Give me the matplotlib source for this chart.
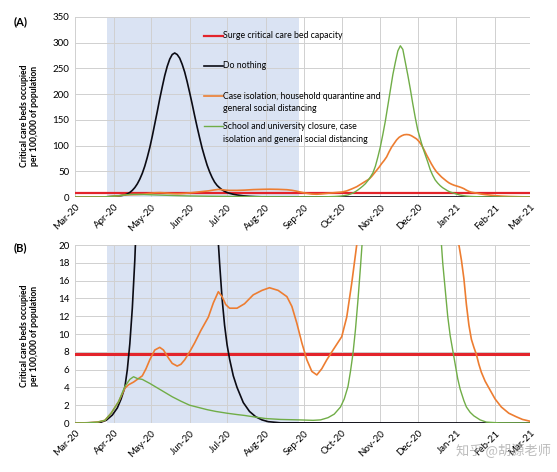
import numpy as np
import matplotlib
matplotlib.use("Agg")
import matplotlib.pyplot as plt
import matplotlib.dates as mdates
from matplotlib.lines import Line2D
from matplotlib.legend_handler import HandlerLine2D

plt.rcParams["font.family"] = ["Lato", "DejaVu Sans"]

# --- Data (days since 1 Mar 2020, critical care beds per 100,000) ---
start = np.datetime64("2020-03-01")

black_day = [0, 20, 25, 30, 34, 37, 40, 42, 44, 46, 48, 50, 52, 54, 56, 58, 60, 62,
             64, 66, 68, 70, 72, 74, 76, 78, 80, 82, 84, 86, 88, 90, 92, 94, 96, 98,
             100, 102, 104, 106, 108, 110, 112, 114, 116, 118, 120, 122, 124, 127,
             130, 135, 140, 145, 150, 155, 165, 365]
black_val = [0, 0.05, 0.3, 0.9, 1.7, 2.7, 4.0, 6.0, 8.9, 12.9, 18.3, 25.5, 34.7, 46,
             60, 77, 96, 118, 142, 166, 191, 214, 236, 254, 268, 277, 280, 277, 270,
             258, 243, 224, 203, 181, 158, 136, 115, 95, 78, 62, 49, 38, 29, 22.5,
             18, 14, 11, 8.8, 7.2, 5.3, 4.0, 2.3, 1.3, 0.7, 0.35, 0.15, 0.02, 0]

orange_day = [0, 10, 18, 24, 29, 35, 40, 43, 47, 50, 54, 57, 60, 64, 68, 71, 75, 78,
              82, 85, 88, 92, 96, 101, 107, 111, 115, 118, 121, 124, 130, 136, 143,
              150, 156, 163, 170, 174, 178, 182, 186, 190, 194, 198, 202, 207, 214,
              218, 222, 226, 228, 230, 232, 234, 236, 238, 240, 242, 244, 246, 248,
              250, 252, 254, 256, 258, 260, 262, 264, 266, 268, 270, 272, 274, 276,
              278, 280, 282, 284, 286, 288, 290, 292, 294, 296, 298, 300, 302, 304,
              306, 308, 310, 312, 314, 316, 318, 320, 322, 324, 326, 329, 333, 337,
              342, 348, 354, 359, 365]
orange_val = [0, 0.02, 0.1, 0.3, 1.1, 2.4, 3.9, 4.3, 4.6, 4.9, 5.3, 6.1, 7.1, 8.2,
              8.5, 8.2, 7.3, 6.7, 6.4, 6.6, 7.1, 8.0, 9.0, 10.4, 11.9, 13.5, 14.75,
              14.2, 13.3, 12.9, 12.9, 13.4, 14.4, 14.9, 15.2, 14.9, 14.2, 13.1, 11.2,
              9.0, 7.1, 5.8, 5.4, 6.1, 7.1, 8.2, 9.7, 11.9, 15.7, 20, 23, 26, 29, 32,
              35, 40, 46, 52, 58, 65, 71, 78, 88, 97, 104, 111, 116, 119, 121, 121.5,
              121, 119, 116, 113, 108, 101, 92, 82, 73, 64, 56, 49, 44, 39, 35, 31,
              27.5, 25, 23, 21.5, 20, 18.3, 16.2, 13.3, 11, 9.4, 8.5, 7.7, 6.6, 5.7,
              4.7, 3.7, 2.7, 1.8, 1.1, 0.7, 0.4, 0.2]

green_day = [0, 10, 18, 24, 29, 35, 40, 44, 47, 50, 54, 60, 66, 72, 78, 85, 92, 99,
             106, 113, 122, 130, 136, 143, 153, 165, 180, 191, 197, 203, 208, 213,
             216, 219, 221, 223, 225, 227, 229, 231, 233, 235, 237, 239, 241, 243,
             245, 247, 249, 251, 253, 255, 257, 259, 261, 263, 265, 267, 269, 271,
             273, 275, 277, 279, 281, 283, 285, 287, 289, 291, 293, 295, 297, 299,
             301, 304, 307, 309, 312, 314, 317, 320, 325, 330, 340, 365]
green_val = [0, 0.02, 0.1, 0.3, 1.1, 2.4, 4.1, 4.9, 5.2, 5.0, 4.9, 4.45, 3.95, 3.45,
             2.95, 2.45, 2.0, 1.75, 1.5, 1.3, 1.1, 0.95, 0.85, 0.7, 0.5, 0.4, 0.35,
             0.3, 0.35, 0.6, 1.0, 1.8, 2.7, 4.1, 5.8, 7.8, 10.5, 13.8, 17.5, 21.5,
             26, 32, 39, 47, 60, 78, 98, 122, 148, 178, 208, 238, 262, 284, 294, 287,
             262, 237, 210, 181, 154, 130, 113, 96, 82, 68, 53, 42, 33, 27, 22, 18,
             15, 12, 9.8, 7.4, 5.0, 3.8, 2.5, 1.8, 1.2, 0.8, 0.35, 0.1, 0.02, 0]

surge_capacity = 7.8
intervention = ("2020-03-27", "2020-08-28")

labels = [
    "Surge critical care bed capacity\n ",
    "Do nothing\n ",
    "Case isolation, household quarantine and\ngeneral social distancing",
    "School and university closure, case\nisolation and general social distancing",
]
colors = ["#E3242B", "#0B0B14", "#ED7D31", "#70AD47"]


def to_dates(days):
    return start + np.array(days).astype("timedelta64[D]")


class FirstLineHandler(HandlerLine2D):
    # put the legend line next to the first line of a two-line label
    def __init__(self, shift, **kw):
        super().__init__(**kw)
        self.shift = shift

    def create_artists(self, legend, orig_handle, xdescent, ydescent, width,
                       height, fontsize, trans):
        return super().create_artists(legend, orig_handle, xdescent,
                                      ydescent - self.shift, width, height,
                                      fontsize, trans)


fig = plt.figure(figsize=(5.57, 4.72), dpi=100)
ax_a = fig.add_axes([0.1346, 0.5826, 0.8169, 0.3814])
ax_b = fig.add_axes([0.1346, 0.1038, 0.8169, 0.3771])

panels = [(ax_a, 350, 50, 1.6, 0.45), (ax_b, 20, 2, 2.2, 0.49)]
for ax, ymax, ystep, red_lw, label_y in panels:
    ax.axvspan(np.datetime64(intervention[0]), np.datetime64(intervention[1]),
               color="#DAE3F3", lw=0, zorder=0)
    ax.axhline(surge_capacity, color=colors[0], lw=red_lw, zorder=2, label=labels[0])
    line_kw = dict(zorder=3, solid_joinstyle="round")
    ax.plot(to_dates(black_day), black_val, color=colors[1], lw=1.2,
            label=labels[1], **line_kw)
    ax.plot(to_dates(orange_day), orange_val, color=colors[2], lw=1.2,
            label=labels[2], **line_kw)
    ax.plot(to_dates(green_day), green_val, color=colors[3], lw=1.0,
            label=labels[3], **line_kw)

    ax.set_xlim(np.datetime64("2020-03-01"), np.datetime64("2021-03-01"))
    ax.set_ylim(0, ymax)
    ax.set_yticks(np.arange(0, ymax + 1, ystep))
    ax.xaxis.set_major_locator(mdates.MonthLocator())
    ax.xaxis.set_major_formatter(mdates.DateFormatter("%b-%y"))
    ax.grid(True, color="#D0D0D0", lw=0.7)
    ax.set_axisbelow(True)
    for s in ax.spines.values():
        s.set_visible(False)
    ax.tick_params(length=0, labelsize=7, pad=4)
    for lab in ax.get_xticklabels():
        lab.set_rotation(45)
        lab.set_ha("right")
        lab.set_rotation_mode("anchor")
    ax.set_ylabel("Critical care beds occupied\nper 100,000 of population",
                  fontsize=6.2, fontweight="bold", linespacing=1.1)
    ax.yaxis.set_label_coords(-0.08, label_y)

fig.text(0.025, 0.953, "(A)", fontsize=8, fontweight="bold", va="center")
fig.text(0.025, 0.476, "(B)", fontsize=8, fontweight="bold", va="center")

leg = ax_a.legend(loc="upper left", bbox_to_anchor=(0.275, 0.94), frameon=False,
                  fontsize=6.3, handlelength=2.2, handletextpad=0.0,
                  labelspacing=0.95, borderaxespad=0,
                  handler_map={Line2D: FirstLineHandler(shift=10)})
for t in leg.get_texts():
    t.set_linespacing(1.55)

fig.text(0.818, 0.045, "知乎 @胡源老师", fontsize=9.5, color="#A0A0A0", alpha=0.7,
         family=["Noto Sans CJK SC", "DejaVu Sans"], va="center")

fig.savefig("out.png", dpi=100)
